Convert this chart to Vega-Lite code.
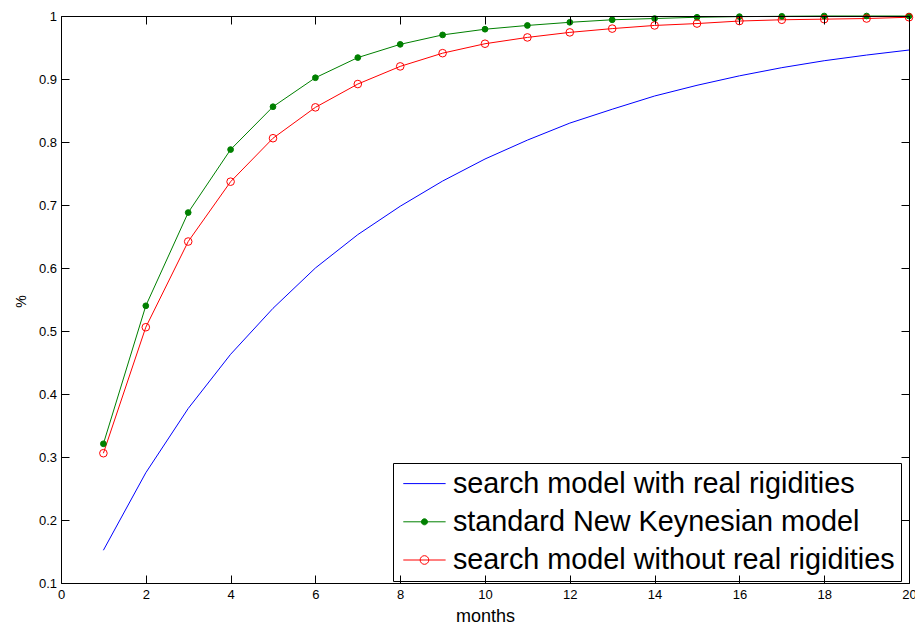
{
  "$schema": "https://vega.github.io/schema/vega-lite/v6.json",
  "width": 848,
  "height": 567,
  "autosize": {"type": "none"},
  "padding": {"left": 61, "top": 16, "right": 6, "bottom": 41},
  "background": "white",
  "config": {"view": {"stroke": null}, "font": "Liberation Sans"},
  "data": {"values": [
    {"series": "search model with real rigidities", "month": 1, "value": 0.152},
    {"series": "search model with real rigidities", "month": 2, "value": 0.275},
    {"series": "search model with real rigidities", "month": 3, "value": 0.377},
    {"series": "search model with real rigidities", "month": 4, "value": 0.463},
    {"series": "search model with real rigidities", "month": 5, "value": 0.536},
    {"series": "search model with real rigidities", "month": 6, "value": 0.600},
    {"series": "search model with real rigidities", "month": 7, "value": 0.653},
    {"series": "search model with real rigidities", "month": 8, "value": 0.698},
    {"series": "search model with real rigidities", "month": 9, "value": 0.738},
    {"series": "search model with real rigidities", "month": 10, "value": 0.773},
    {"series": "search model with real rigidities", "month": 11, "value": 0.803},
    {"series": "search model with real rigidities", "month": 12, "value": 0.830},
    {"series": "search model with real rigidities", "month": 13, "value": 0.852},
    {"series": "search model with real rigidities", "month": 14, "value": 0.873},
    {"series": "search model with real rigidities", "month": 15, "value": 0.890},
    {"series": "search model with real rigidities", "month": 16, "value": 0.905},
    {"series": "search model with real rigidities", "month": 17, "value": 0.918},
    {"series": "search model with real rigidities", "month": 18, "value": 0.929},
    {"series": "search model with real rigidities", "month": 19, "value": 0.938},
    {"series": "search model with real rigidities", "month": 20, "value": 0.946},
    {"series": "standard New Keynesian model", "month": 1, "value": 0.321},
    {"series": "standard New Keynesian model", "month": 2, "value": 0.540},
    {"series": "standard New Keynesian model", "month": 3, "value": 0.688},
    {"series": "standard New Keynesian model", "month": 4, "value": 0.788},
    {"series": "standard New Keynesian model", "month": 5, "value": 0.856},
    {"series": "standard New Keynesian model", "month": 6, "value": 0.902},
    {"series": "standard New Keynesian model", "month": 7, "value": 0.934},
    {"series": "standard New Keynesian model", "month": 8, "value": 0.955},
    {"series": "standard New Keynesian model", "month": 9, "value": 0.970},
    {"series": "standard New Keynesian model", "month": 10, "value": 0.979},
    {"series": "standard New Keynesian model", "month": 11, "value": 0.985},
    {"series": "standard New Keynesian model", "month": 12, "value": 0.990},
    {"series": "standard New Keynesian model", "month": 13, "value": 0.994},
    {"series": "standard New Keynesian model", "month": 14, "value": 0.996},
    {"series": "standard New Keynesian model", "month": 15, "value": 0.998},
    {"series": "standard New Keynesian model", "month": 16, "value": 0.999},
    {"series": "standard New Keynesian model", "month": 17, "value": 0.9995},
    {"series": "standard New Keynesian model", "month": 18, "value": 1.0},
    {"series": "standard New Keynesian model", "month": 19, "value": 1.0},
    {"series": "standard New Keynesian model", "month": 20, "value": 1.0},
    {"series": "search model without real rigidities", "month": 1, "value": 0.306},
    {"series": "search model without real rigidities", "month": 2, "value": 0.506},
    {"series": "search model without real rigidities", "month": 3, "value": 0.642},
    {"series": "search model without real rigidities", "month": 4, "value": 0.737},
    {"series": "search model without real rigidities", "month": 5, "value": 0.806},
    {"series": "search model without real rigidities", "month": 6, "value": 0.855},
    {"series": "search model without real rigidities", "month": 7, "value": 0.892},
    {"series": "search model without real rigidities", "month": 8, "value": 0.920},
    {"series": "search model without real rigidities", "month": 9, "value": 0.941},
    {"series": "search model without real rigidities", "month": 10, "value": 0.956},
    {"series": "search model without real rigidities", "month": 11, "value": 0.966},
    {"series": "search model without real rigidities", "month": 12, "value": 0.974},
    {"series": "search model without real rigidities", "month": 13, "value": 0.980},
    {"series": "search model without real rigidities", "month": 14, "value": 0.985},
    {"series": "search model without real rigidities", "month": 15, "value": 0.988},
    {"series": "search model without real rigidities", "month": 16, "value": 0.992},
    {"series": "search model without real rigidities", "month": 17, "value": 0.994},
    {"series": "search model without real rigidities", "month": 18, "value": 0.995},
    {"series": "search model without real rigidities", "month": 19, "value": 0.996},
    {"series": "search model without real rigidities", "month": 20, "value": 0.998}
  ]},
  "layer": [
    {
      "mark": {"type": "line", "strokeWidth": 1, "clip": false},
      "encoding": {
        "x": {"field": "month", "type": "quantitative",
          "scale": {"domain": [0, 20], "nice": false, "zero": false},
          "axis": {"orient": "bottom", "values": [0, 2, 4, 6, 8, 10, 12, 14, 16, 18, 20], "format": "d",
            "ticks": false, "domainColor": "black", "domainWidth": 1,
            "labelFont": "Liberation Sans", "labelFontSize": 13, "labelColor": "black", "labelPadding": 5,
            "labelFlush": false, "labelOverlap": false, "grid": false,
            "title": "months", "titleFont": "Liberation Sans", "titleFontSize": 18, "titleFontWeight": "normal",
            "titleColor": "black", "titleBaseline": "alphabetic", "titleAlign": "center", "titleX": 424, "titleY": 38}},
        "y": {"field": "value", "type": "quantitative",
          "scale": {"domain": [0.1, 1], "nice": false, "zero": false},
          "axis": {"orient": "left", "values": [0.1, 0.2, 0.3, 0.4, 0.5, 0.6, 0.7, 0.8, 0.9, 1], "format": ".1~f",
            "ticks": false, "domainColor": "black", "domainWidth": 1,
            "labelFont": "Liberation Sans", "labelFontSize": 13, "labelColor": "black", "labelPadding": 4.5,
            "labelFlush": false, "labelOverlap": false, "grid": false,
            "title": "%", "titleFont": "Liberation Sans", "titleFontSize": 14, "titleFontWeight": "normal",
            "titleColor": "black", "titleAngle": 270, "titleBaseline": "alphabetic", "titleAlign": "center", "titleX": -36, "titleY": 285}},
        "color": {"field": "series", "type": "nominal",
          "scale": {"domain": ["search model with real rigidities", "standard New Keynesian model", "search model without real rigidities"],
            "range": ["#0000ff", "#008000", "#ff0000"]},
          "legend": {"orient": "none", "legendX": 332, "legendY": 447, "title": null, "direction": "vertical",
            "strokeColor": "black", "fillColor": "white", "padding": 5.6,
            "labelFont": "Liberation Sans", "labelFontSize": 28.8, "labelColor": "black", "labelLimit": 0,
            "symbolSize": 829, "symbolStrokeWidth": 1, "symbolOffset": 10.85, "labelOffset": 13.45, "rowPadding": 8.2,
            "encode": {"symbols": {"update": {
              "shape": {"signal": "datum.value === 'search model with real rigidities' ? 'M-1.47,0H1.47' : datum.value === 'standard New Keynesian model' ? 'M-1.47,0H1.47M-0.21,0A0.21,0.21 0 1,0 0.21,0A0.21,0.21 0 1,0 -0.21,0Z' : 'M-1.47,0H1.47M-0.3,0A0.3,0.3 0 1,0 0.3,0A0.3,0.3 0 1,0 -0.3,0Z'"},
              "fill": {"signal": "datum.value === 'standard New Keynesian model' ? '#008000' : 'transparent'"},
              "strokeWidth": {"value": 1},
              "opacity": {"value": 1}
            }}}}
        }
      }
    },
    {
      "mark": {"type": "point", "filled": false, "strokeWidth": 1, "clip": false},
      "encoding": {
        "x": {"field": "month", "type": "quantitative",
          "axis": {"orient": "top", "offset": -567, "values": [0, 2, 4, 6, 8, 10, 12, 14, 16, 18, 20], "labels": false, "title": null,
            "ticks": true, "tickSize": 8, "tickColor": "black", "tickWidth": 1, "tickOpacity": 1, "domain": false, "grid": false, "zindex": 1}},
        "y": {"field": "value", "type": "quantitative",
          "axis": {"orient": "right", "offset": -848, "values": [0.1, 0.2, 0.3, 0.4, 0.5, 0.6, 0.7, 0.8, 0.9, 1], "labels": false, "title": null,
            "ticks": true, "tickSize": 8, "tickColor": "black", "tickWidth": 1, "tickOpacity": 1, "domain": false, "grid": false, "zindex": 1}},
        "color": {"field": "series", "type": "nominal"},
        "fill": {"condition": {"test": "datum.series === 'standard New Keynesian model'", "value": "#008000"}, "value": "transparent"},
        "size": {"condition": {"test": "datum.series === 'standard New Keynesian model'", "value": 33}, "value": 58},
        "opacity": {"condition": {"test": "datum.series === 'search model with real rigidities'", "value": 0}, "value": 1}
      }
    },
    {
      "mark": {"type": "point", "opacity": 0},
      "encoding": {
        "x": {"field": "month", "type": "quantitative",
          "axis": {"orient": "bottom", "offset": -567, "values": [0, 2, 4, 6, 8, 10, 12, 14, 16, 18, 20], "labels": false, "title": null,
            "ticks": true, "tickSize": 8, "tickColor": "black", "tickWidth": 1, "tickOpacity": 1, "domainColor": "black", "domainWidth": 1, "grid": false, "zindex": 1}},
        "y": {"field": "value", "type": "quantitative",
          "axis": {"orient": "left", "offset": -848, "values": [0.1, 0.2, 0.3, 0.4, 0.5, 0.6, 0.7, 0.8, 0.9, 1], "labels": false, "title": null,
            "ticks": true, "tickSize": 8, "tickColor": "black", "tickWidth": 1, "tickOpacity": 1, "domainColor": "black", "domainWidth": 1, "grid": false, "zindex": 1}}
      }
    }
  ],
  "resolve": {"axis": {"x": "independent", "y": "independent"}}
}
